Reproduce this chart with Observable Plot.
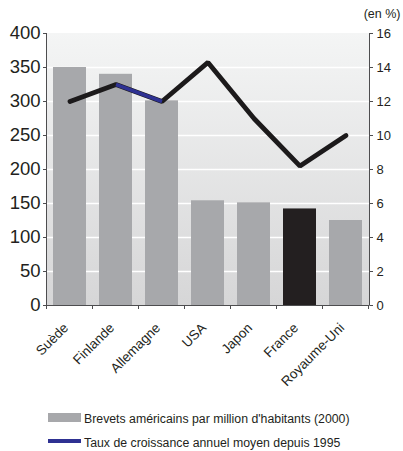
<!DOCTYPE html>
<html>
<head>
<meta charset="utf-8">
<script src="https://cdn.jsdelivr.net/npm/d3@7"></script>
<script src="https://cdn.jsdelivr.net/npm/@observablehq/plot@0.6"></script>
<style>
  body { margin: 0; background: #fff; font-family: "Liberation Sans", Arial, sans-serif; }
  #chart { position: relative; width: 403px; height: 451px; }
  #chart svg { position: absolute; left: 0; top: 0; }
  .legend { position: absolute; left: 48px; font-size: 12.3px; color: #231f20; line-height: 14px; }
  .legend .sw { position: absolute; left: 0; width: 33px; }
  .legend span.txt { position: absolute; left: 36px; white-space: nowrap; }
</style>
</head>
<body>
<div id="chart"></div>
<script>
// Countries, US patents per million inhabitants (2000), and average annual growth since 1995 (%)
const countries = ["Suède", "Finlande", "Allemagne", "USA", "Japon", "France", "Royaume-Uni"];
const patents = [350, 340, 301, 154, 151, 142, 125];
const growth = [12, 13, 12, 14.3, 11, 8.2, 10];
const highlighted = "France";
const blueSegment = ["Finlande", "Allemagne"];
const leftTicks = [0, 50, 100, 150, 200, 250, 300, 350, 400];
const rightTicks = [0, 2, 4, 6, 8, 10, 12, 14, 16];

const legendBars = "Brevets américains par million d'habitants (2000)";
const legendLine = "Taux de croissance annuel moyen depuis 1995";
const unitLabel = "(en %)";

// growth rates share the left scale: 16 % sits at the top tick (400)
const k = leftTicks[leftTicks.length - 1] / rightTicks[rightTicks.length - 1];

const rows = countries.map((c, i) => ({country: c, patents: patents[i], growth: growth[i]}));

const barGray = "#a7a8ab";
const dark = "#231f20";
const blue = "#2e3192";

// plot-area background: vertical gradient
function background(index, scales, values, dim) {
  const g = d3.create("svg:g");
  const id = "bg-grad";
  const grad = g.append("defs").append("linearGradient")
    .attr("id", id).attr("x1", 0).attr("y1", 0).attr("x2", 0).attr("y2", 1);
  grad.append("stop").attr("offset", "0%").attr("stop-color", "#f4f5f5");
  grad.append("stop").attr("offset", "100%").attr("stop-color", "#d6d6d7");
  g.append("rect")
    .attr("x", dim.marginLeft).attr("y", dim.marginTop)
    .attr("width", dim.width - dim.marginLeft - dim.marginRight)
    .attr("height", dim.height - dim.marginTop - dim.marginBottom)
    .attr("fill", `url(#${id})`);
  return g.node();
}

// axis lines and the category-boundary ticks along the bottom
function frameLines(index, scales, values, dim) {
  const g = d3.create("svg:g").attr("stroke", "#4d4d4f").attr("stroke-width", 1);
  const x0 = dim.marginLeft, x1 = dim.width - dim.marginRight;
  const y0 = dim.marginTop, y1 = dim.height - dim.marginBottom;
  g.append("line").attr("x1", x0 - 0.5).attr("x2", x0 - 0.5).attr("y1", y0).attr("y2", y1 + 0.5);
  g.append("line").attr("x1", x1 + 0.5).attr("x2", x1 + 0.5).attr("y1", y0).attr("y2", y1 + 0.5);
  g.append("line").attr("x1", x0 - 0.5).attr("x2", x1 + 0.5).attr("y1", y1 + 0.5).attr("y2", y1 + 0.5);
  const step = (x1 - x0) / countries.length;
  for (let i = 0; i <= countries.length; i++) {
    const x = Math.round(x0 + i * step) - 0.5;
    g.append("line").attr("x1", x).attr("x2", x).attr("y1", y1).attr("y2", y1 + 4);
  }
  return g.node();
}

const plot = Plot.plot({
  width: 403,
  height: 400,
  marginTop: 33,
  marginBottom: 95,
  marginLeft: 47,
  marginRight: 34,
  style: {fontFamily: "'Liberation Sans', Arial, sans-serif", color: dark, background: "transparent"},
  x: {domain: countries, paddingInner: 0.28, paddingOuter: 0.14, axis: null},
  y: {domain: [0, 400], axis: null},
  marks: [
    background,
    Plot.ruleY(leftTicks.filter(v => v > 0 && v < 400), {stroke: "#ffffff", strokeWidth: 1.5}),
    Plot.barY(rows, {x: "country", y: "patents", fill: d => d.country === highlighted ? dark : barGray}),
    Plot.line(rows, {x: "country", y: d => d.growth * k, stroke: "#1c1a1b", strokeWidth: 4.8, strokeLinejoin: "miter", curve: "linear"}),
    Plot.line(rows.filter(d => blueSegment.includes(d.country)), {x: "country", y: d => d.growth * k, stroke: blue, strokeWidth: 3.5, strokeLinecap: "butt"}),
    frameLines,
    Plot.axisY(leftTicks, {anchor: "left", tickSize: 4, tickPadding: 3, fontSize: 18.5, label: null, stroke: "#4d4d4f"}),
    Plot.axisY(leftTicks, {anchor: "right", tickFormat: d => String(d / k), tickSize: 3, tickPadding: 4, fontSize: 13, label: null, stroke: "#4d4d4f"}),
    Plot.axisX({tickRotate: -45, tickSize: 0, tickPadding: 20, dx: -4, fontSize: 13.5, label: null, style: {letterSpacing: "-0.3px"}}),
    Plot.text([unitLabel], {frameAnchor: "top-right", dx: 31, dy: -24, textAnchor: "end", fontSize: 12.5, fill: dark})
  ]
});

const root = document.getElementById("chart");
root.appendChild(plot);

// legend below the chart
function legendItem(top, swatchTop, swatchHeight, color, label) {
  const item = document.createElement("div");
  item.className = "legend";
  item.style.top = top + "px";
  const sw = document.createElement("div");
  sw.className = "sw";
  sw.style.top = swatchTop + "px";
  sw.style.height = swatchHeight + "px";
  sw.style.background = color;
  const txt = document.createElement("span");
  txt.className = "txt";
  txt.textContent = label;
  item.appendChild(sw);
  item.appendChild(txt);
  root.appendChild(item);
}
legendItem(412, 1, 9, barGray, legendBars);
legendItem(436, 3, 4, blue, legendLine);
</script>
</body>
</html>
